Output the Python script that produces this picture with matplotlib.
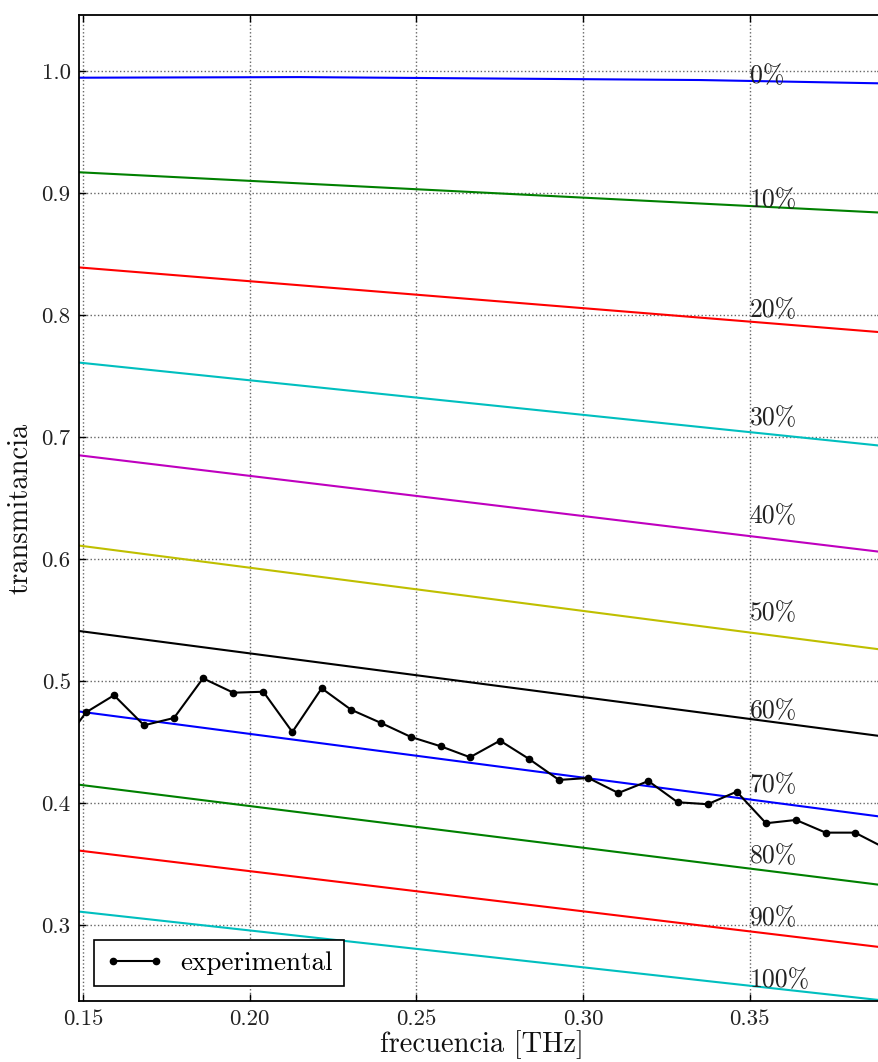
import matplotlib

matplotlib.use("Agg")
import matplotlib.pyplot as plt
import numpy as np

# model curves: transmittance at the two ends of the frequency window
freq_ends = [0.1488, 0.3888]
porcentajes = ["0%", "10%", "20%", "30%", "40%", "50%", "60%", "70%", "80%", "90%", "100%"]
t_start = [0.9945, 0.917, 0.839, 0.761, 0.685, 0.611, 0.541, 0.475, 0.415, 0.361, 0.311]
t_end = [0.9899, 0.884, 0.786, 0.693, 0.606, 0.526, 0.455, 0.389, 0.333, 0.282, 0.2385]
# the 0% curve bends a little, extra readings
freq_0 = [0.1488, 0.215, 0.335, 0.3888]
t_0 = [0.9945, 0.9950, 0.9926, 0.9899]
label_y = [0.990, 0.8885, 0.7984, 0.7098, 0.6295, 0.550, 0.4697, 0.409, 0.3508, 0.300, 0.2492]

# experimental points
freq_exp = [0.1420, 0.1509, 0.1593, 0.1683, 0.1773, 0.1860, 0.1951, 0.2041, 0.2128, 0.2216,
            0.2304, 0.2394, 0.2484, 0.2573, 0.2661, 0.2751, 0.2837, 0.2928, 0.3016, 0.3106,
            0.3196, 0.3284, 0.3374, 0.3461, 0.3549, 0.3639, 0.3728, 0.3816, 0.3905]
t_exp = [0.441, 0.4743, 0.4883, 0.4637, 0.4697, 0.5022, 0.4904, 0.4912, 0.4582, 0.4940,
         0.4765, 0.4656, 0.4541, 0.4465, 0.4375, 0.4511, 0.4363, 0.4189, 0.4205, 0.4082,
         0.4180, 0.4006, 0.3990, 0.4093, 0.3834, 0.3861, 0.3757, 0.3757, 0.3632]

colores = ["#0000ff", "#008000", "#ff0000", "#00bfbf", "#bf00bf", "#bfbf00", "#000000"]

plt.rcParams["font.family"] = "serif"
plt.rcParams["font.serif"] = ["cmr10"]
plt.rcParams["mathtext.fontset"] = "cm"
plt.rcParams["axes.unicode_minus"] = False
plt.rcParams["axes.formatter.use_mathtext"] = True

fig = plt.figure(figsize=(8.79, 10.62), dpi=100)
ax = fig.add_axes([79 / 879, 1 - 1001 / 1062, 805 / 879, 986 / 1062])

for i, (name, a, b) in enumerate(zip(porcentajes, t_start, t_end)):
    color = colores[i % len(colores)]
    if i == 0:
        ax.plot(freq_0, t_0, color=color, lw=1.5)
    else:
        ax.plot(freq_ends, [a, b], color=color, lw=1.5)
    ax.text(0.35, label_y[i], name, fontsize=18.5, color="#222222", ha="left", va="baseline")

ax.plot(freq_exp, t_exp, "-o", color="k", lw=1.5, ms=4.5, label="experimental")

ax.set_xlim(0.1488, 0.3903)
ax.set_ylim(0.2377, 1.0459)
ax.set_xticks([0.15, 0.20, 0.25, 0.30, 0.35])
ax.set_xticklabels(["0.15", "0.20", "0.25", "0.30", "0.35"])
ax.set_yticks([0.3, 0.4, 0.5, 0.6, 0.7, 0.8, 0.9, 1.0])
ax.set_yticklabels(["0.3", "0.4", "0.5", "0.6", "0.7", "0.8", "0.9", "1.0"])
ax.tick_params(direction="in", top=True, right=True, labelsize=16.5, labelcolor="#222222",
               length=5, width=1, pad=6)
ax.grid(True, color="#666666", ls=":", lw=1)
for spine in ax.spines.values():
    spine.set_linewidth(1.3)

ax.set_xlabel("frecuencia [THz]", fontsize=20.5, color="#111111", labelpad=1)
ax.set_ylabel("transmitancia", fontsize=20.5, color="#111111", labelpad=6)

leg = ax.legend(loc="lower left", numpoints=2, fontsize=19.5, fancybox=False, framealpha=1,
                edgecolor="k", borderaxespad=0.55, handlelength=2.2, handletextpad=0.6)
leg.get_frame().set_linewidth(1.2)

fig.savefig("out.png", dpi=100)
